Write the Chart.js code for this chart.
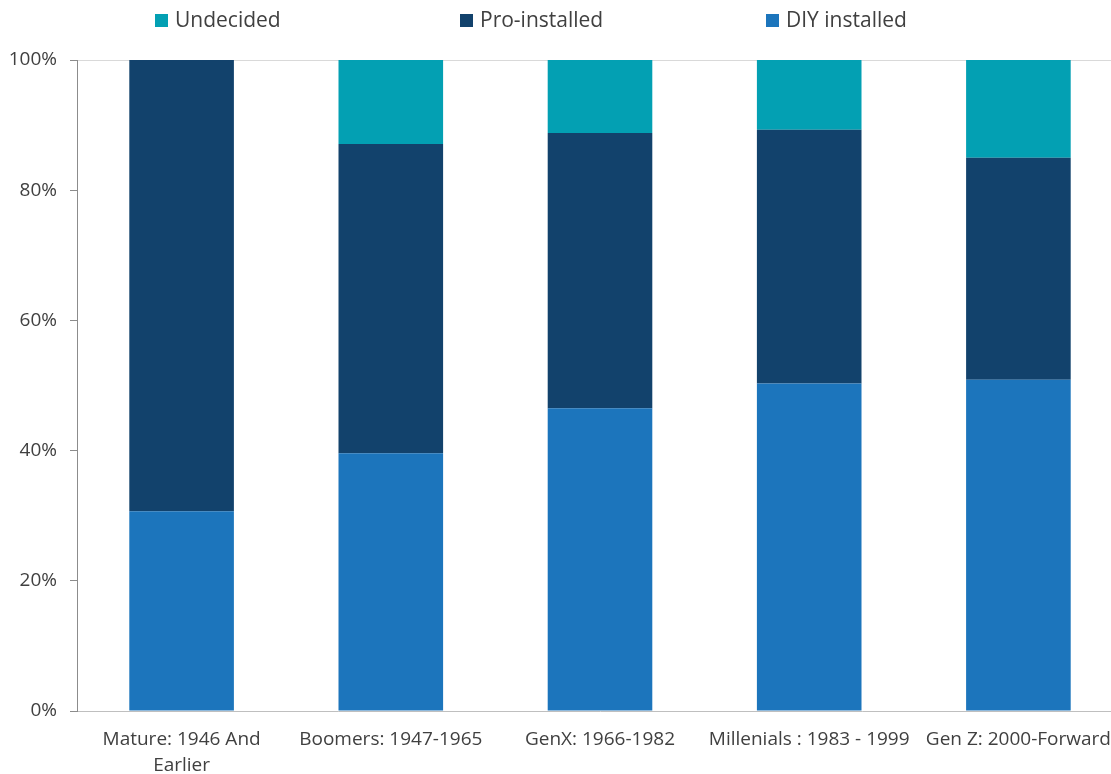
<!DOCTYPE html>
<html>
<head>
<meta charset="utf-8">
<script src="https://cdn.jsdelivr.net/npm/chart.js@4/dist/chart.umd.min.js"></script>
<style>
  html, body { margin: 0; padding: 0; background: #fff; overflow: hidden; }
  #wrap { position: relative; width: 1123px; height: 774px; }
</style>
</head>
<body>
<div id="wrap"><canvas id="chart"></canvas></div>
<script>
const categories = [
  ["Mature: 1946 And", "Earlier"],
  "Boomers: 1947-1965",
  "GenX: 1966-1982",
  "Millenials : 1983 - 1999",
  "Gen Z: 2000-Forward"
];
const diyInstalled = [30.7, 39.6, 46.5, 50.3, 50.9];
const proInstalled = [69.3, 47.5, 42.3, 39.0, 34.1];
const undecided = [0, 12.9, 11.2, 10.7, 15.0];
const yTicks = [0, 20, 40, 60, 80, 100];

const FONT = "'Open Sans', sans-serif";
const TEXT = "#404040";

// legend drawn by hand so the items sit in even slots like the original
const legendItems = [
  { text: "Undecided", color: "#03a0b3" },
  { text: "Pro-installed", color: "#12426c" },
  { text: "DIY installed", color: "#1c75bc" }
];
const legendSlots = [155, 460, 766];

const slotLegend = {
  id: "slotLegend",
  afterDraw(chart) {
    const ctx = chart.ctx;
    ctx.save();
    ctx.font = "21px " + FONT;
    ctx.textBaseline = "middle";
    legendItems.forEach((item, i) => {
      const x = legendSlots[i];
      ctx.fillStyle = item.color;
      ctx.fillRect(x, 14, 13, 13);
      ctx.fillStyle = TEXT;
      ctx.fillText(item.text, x + 20, 21);
    });
    ctx.restore();
  }
};

new Chart(document.getElementById("chart"), {
  type: "bar",
  data: {
    labels: categories,
    datasets: [
      { label: "DIY installed", data: diyInstalled, backgroundColor: "#1c75bc" },
      { label: "Pro-installed", data: proInstalled, backgroundColor: "#12426c" },
      { label: "Undecided", data: undecided, backgroundColor: "#03a0b3" }
    ]
  },
  options: {
    responsive: true,
    maintainAspectRatio: false,
    animation: false,
    datasets: { bar: { categoryPercentage: 1, barPercentage: 0.5 } },
    layout: { padding: { top: 60, right: 0, left: 0, bottom: 0 } },
    plugins: {
      legend: { display: false },
      tooltip: { enabled: false }
    },
    scales: {
      x: {
        stacked: true,
        afterFit(scale) { scale.height = 63; },
        grid: { display: false },
        border: { display: true, color: "#bfbfbf", width: 1 },
        ticks: {
          color: TEXT,
          font: { family: FONT, size: 19, lineHeight: 1.35 },
          maxRotation: 0,
          padding: 8
        }
      },
      y: {
        stacked: true,
        min: 0,
        max: 100,
        afterBuildTicks(scale) {
          scale.ticks = yTicks.map(v => ({ value: v }));
        },
        afterFit(scale) { scale.width = 77; },
        grid: {
          drawOnChartArea: true,
          color: c => (c.tick && c.tick.value === 100 ? "#d9d9d9" : "rgba(0,0,0,0)"),
          tickColor: "#8c8c8c",
          tickLength: 7
        },
        border: { display: true, color: "#8c8c8c", width: 1 },
        ticks: {
          color: TEXT,
          font: { family: FONT, size: 19 },
          padding: 13,
          callback: v => v + "%"
        }
      }
    }
  },
  plugins: [slotLegend]
});
</script>
</body>
</html>
